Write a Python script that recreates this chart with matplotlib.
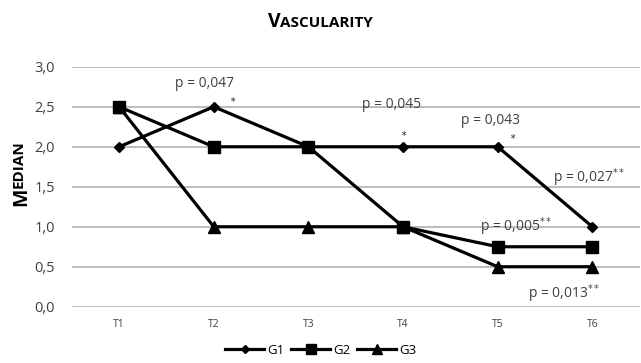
import numpy as np
import matplotlib
matplotlib.use("Agg")
import matplotlib.pyplot as plt

plt.rcParams['font.family'] = ['Open Sans', 'DejaVu Sans']

times = ["T1", "T2", "T3", "T4", "T5", "T6"]
g1 = [2.0, 2.5, 2.0, 2.0, 2.0, 1.0]
g2 = [2.5, 2.0, 2.0, 1.0, 0.75, 0.75]
g3 = [2.5, 1.0, 1.0, 1.0, 0.5, 0.5]
yticks = [0.0, 0.5, 1.0, 1.5, 2.0, 2.5, 3.0]
ytick_labels = ["0,0", "0,5", "1,0", "1,5", "2,0", "2,5", "3,0"]

# p-value notes: (text, x in category units, y in data units)
notes = [
    ("p = 0,047", 0.90, 2.79),
    ("p = 0,045", 2.88, 2.53),
    ("p = 0,043", 3.92, 2.33),
    ("p = 0,027$^{**}$", 4.97, 1.61),
    ("p = 0,005$^{**}$", 4.20, 1.00),
    ("p = 0,013$^{**}$", 4.70, 0.16),
]
stars = [(1.20, 2.60), (3.01, 2.17), (4.16, 2.14)]

fig = plt.figure(figsize=(6.41, 3.63), dpi=100)
ax = fig.add_axes([0.112, 0.155, 0.886, 0.661])

x = np.arange(len(times))
ax.plot(x, g1, color='black', lw=2.3, marker='D', ms=5.5, label='G1')
ax.plot(x, g2, color='black', lw=2.3, marker='s', ms=9, label='G2')
ax.plot(x, g3, color='black', lw=2.3, marker='^', ms=9, label='G3')

ax.set_xlim(-0.5, 5.5)
ax.set_ylim(0, 3)
ax.set_yticks(yticks)
ax.set_yticklabels(ytick_labels, fontsize=10.5, color='#404040')
ax.set_xticks(x)
ax.set_xticklabels(times, fontsize=7.5, color='#404040')
ax.tick_params(length=0)
ax.tick_params(axis='x', pad=9)
ax.tick_params(axis='y', pad=12)
ax.grid(axis='y', color='#b0b0b0', lw=1.2)
ax.set_axisbelow(True)
for s in ax.spines.values():
    s.set_visible(False)

for txt, tx, ty in notes:
    ax.text(tx, ty, txt, fontsize=10, color='#404040', ha='center', va='center')
for sx, sy in stars:
    ax.text(sx, sy, r"$\ast$", fontsize=5.5, color='#404040', ha='center', va='center')

# small caps title and y label
fig.canvas.draw()
r = fig.canvas.get_renderer()
t1 = fig.text(0.5, 0.926, "V", fontsize=14, fontweight='bold', ha='left', va='baseline')
t2 = fig.text(0.5, 0.926, "ASCULARITY", fontsize=11, fontweight='bold', ha='left', va='baseline')
w1 = t1.get_window_extent(r).width
w2 = t2.get_window_extent(r).width
x0 = 0.5 - (w1 + w2) / 2 / fig.bbox.width
t1.set_x(x0)
t2.set_x(x0 + w1 / fig.bbox.width)

y1 = fig.text(0.018, 0.5, "M", fontsize=14, fontweight='bold', rotation=90, ha='left', va='bottom')
y2 = fig.text(0.018, 0.5, "EDIAN", fontsize=11, fontweight='bold', rotation=90, ha='left', va='bottom')
h1 = y1.get_window_extent(r).height
h2 = y2.get_window_extent(r).height
yc = 1 - 173 / 363
y0 = yc - (h1 + h2) / 2 / fig.bbox.height
y1.set_y(y0)
y2.set_y(y0 + h1 / fig.bbox.height)

fig.legend(loc='center', bbox_to_anchor=(0.5, 0.035), ncol=3, frameon=False,
           fontsize=9.5, handlelength=3.0, columnspacing=0.5, handletextpad=0.2,
           markerscale=0.8)

fig.savefig("out.png", dpi=100)
